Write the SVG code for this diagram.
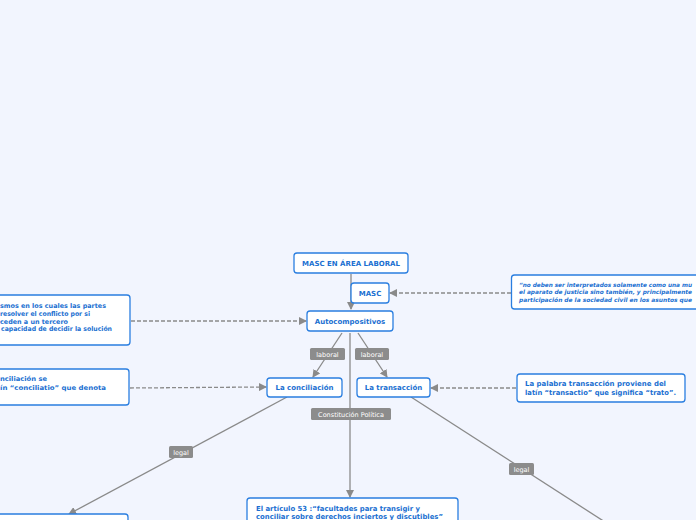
<svg xmlns="http://www.w3.org/2000/svg" width="696" height="520" viewBox="0 0 696 520">
<style>
.node{fill:#fff;stroke:#2a7ee0;stroke-width:1.3}
.t{font-family:"DejaVu Sans",Verdana,sans-serif;font-weight:bold;fill:#1a6fd1;font-size:7px}
.c{text-anchor:middle}
.i{font-style:italic;font-size:5.8px}
.s{font-size:6.5px}
.ln{stroke:#8a8a8a;stroke-width:1.3;fill:none}
.ds{stroke:#8a8a8a;stroke-width:1.3;fill:none;stroke-dasharray:4 2}
.lb{fill:#8c8c8c}
.lt{font-family:"DejaVu Sans",Verdana,sans-serif;font-size:6.5px;fill:#fff;text-anchor:middle}
</style>
<defs>
<marker id="ah" markerWidth="8" markerHeight="8" refX="7" refY="4" orient="auto" markerUnits="userSpaceOnUse">
<path d="M0,0 L8,4 L0,8 Z" fill="#8a8a8a"/>
</marker>
</defs>
<rect width="696" height="520" fill="#f2f5fe"/>
<g id="connectors">
<path class="ln" d="M351,274 V309" marker-end="url(#ah)"/>
<path class="ds" d="M511,293 H390" marker-end="url(#ah)"/>
<path class="ds" d="M131,321 H306" marker-end="url(#ah)"/>
<path class="ds" d="M130,388 L266,387" marker-end="url(#ah)"/>
<path class="ds" d="M516,388 H431" marker-end="url(#ah)"/>
<path class="ln" d="M342,333 L313,377" marker-end="url(#ah)"/>
<path class="ln" d="M358,333 L387,377" marker-end="url(#ah)"/>
<path class="ln" d="M350,333 V497" marker-end="url(#ah)"/>
<path class="ln" d="M287,397 L69,514" marker-end="url(#ah)"/>
<path class="ln" d="M411,397 L605,522"/>
<g>
<rect class="lb" x="310" y="348" width="35" height="12" rx="1.5"/>
<text class="lt" x="327.5" y="356.5">laboral</text>
<rect class="lb" x="355" y="348" width="34" height="12" rx="1.5"/>
<text class="lt" x="372" y="356.5">laboral</text>
<rect class="lb" x="311" y="408" width="80" height="12" rx="1.5"/>
<text class="lt" x="351" y="416.5">Constitución Política</text>
<rect class="lb" x="169" y="446" width="24" height="12" rx="1.5"/>
<text class="lt" x="181" y="454.5">legal</text>
<rect class="lb" x="509" y="463" width="25" height="12" rx="1.5"/>
<text class="lt" x="521.5" y="471.5">legal</text>
</g>
</g>
<g id="masc-area">
<rect class="node" x="294" y="253" width="114" height="20" rx="3"/>
<text class="t c" x="351" y="265.5">MASC EN ÁREA LABORAL</text>
</g>
<g id="masc">
<rect class="node" x="351" y="283" width="38" height="20" rx="3"/>
<text class="t c" x="370" y="295.5">MASC</text>
</g>
<g id="autocompositivos">
<rect class="node" x="307" y="311" width="86" height="20" rx="3"/>
<text class="t c" x="350" y="323.5">Autocompositivos</text>
</g>
<g id="quote">
<rect class="node" x="511.5" y="275" width="200" height="34" rx="3"/>
<text class="t i" x="519" y="287" textLength="173" lengthAdjust="spacingAndGlyphs">“no deben ser interpretados solamente como una mu</text>
<text class="t i" x="519" y="294" textLength="173" lengthAdjust="spacingAndGlyphs">el aparato de justicia sino también, y principalmente</text>
<text class="t i" x="519" y="301.5" textLength="173" lengthAdjust="spacingAndGlyphs">participación de la sociedad civil en los asuntos que</text>
</g>
<g id="mecanismos">
<rect class="node" x="-10" y="295" width="140" height="50" rx="3"/>
<text class="t s" x="0" y="307.5" textLength="106" lengthAdjust="spacingAndGlyphs">smos en los cuales las partes</text>
<text class="t s" x="0" y="315.5" textLength="90" lengthAdjust="spacingAndGlyphs">resolver el conflicto por si</text>
<text class="t s" x="0" y="323.5" textLength="68" lengthAdjust="spacingAndGlyphs">ceden a un tercero</text>
<text class="t s" x="1" y="331" textLength="111" lengthAdjust="spacingAndGlyphs">capacidad de decidir la solución</text>
</g>
<g id="def-conciliacion">
<rect class="node" x="-10" y="369" width="139" height="36" rx="3"/>
<text class="t s" x="0" y="380.5" textLength="47" lengthAdjust="spacingAndGlyphs">nciliación se</text>
<text class="t s" x="0" y="389.5" textLength="106" lengthAdjust="spacingAndGlyphs">ín “conciliatio” que denota</text>
</g>
<g id="conciliacion">
<rect class="node" x="267" y="378" width="75" height="19" rx="3"/>
<text class="t c" x="304.5" y="390">La conciliación</text>
</g>
<g id="transaccion">
<rect class="node" x="357" y="378" width="73" height="19" rx="3"/>
<text class="t c" x="393.5" y="390">La transacción</text>
</g>
<g id="def-transaccion">
<rect class="node" x="517" y="374" width="168" height="28" rx="3"/>
<text class="t" x="525" y="385.5" textLength="141" lengthAdjust="spacingAndGlyphs">La palabra transacción proviene del</text>
<text class="t" x="525" y="394.5" textLength="151" lengthAdjust="spacingAndGlyphs">latín “transactio” que significa “trato”.</text>
</g>
<g id="articulo">
<rect class="node" x="247" y="498" width="211" height="30" rx="3"/>
<text class="t" x="256" y="510.5" textLength="164" lengthAdjust="spacingAndGlyphs">El artículo 53 :“facultades para transigir y</text>
<text class="t" x="256" y="518.5" textLength="187" lengthAdjust="spacingAndGlyphs">conciliar sobre derechos inciertos y discutibles”</text>
</g>
<g id="legal-left">
<rect class="node" x="-10" y="514" width="138" height="20" rx="3"/>
</g>
</svg>
